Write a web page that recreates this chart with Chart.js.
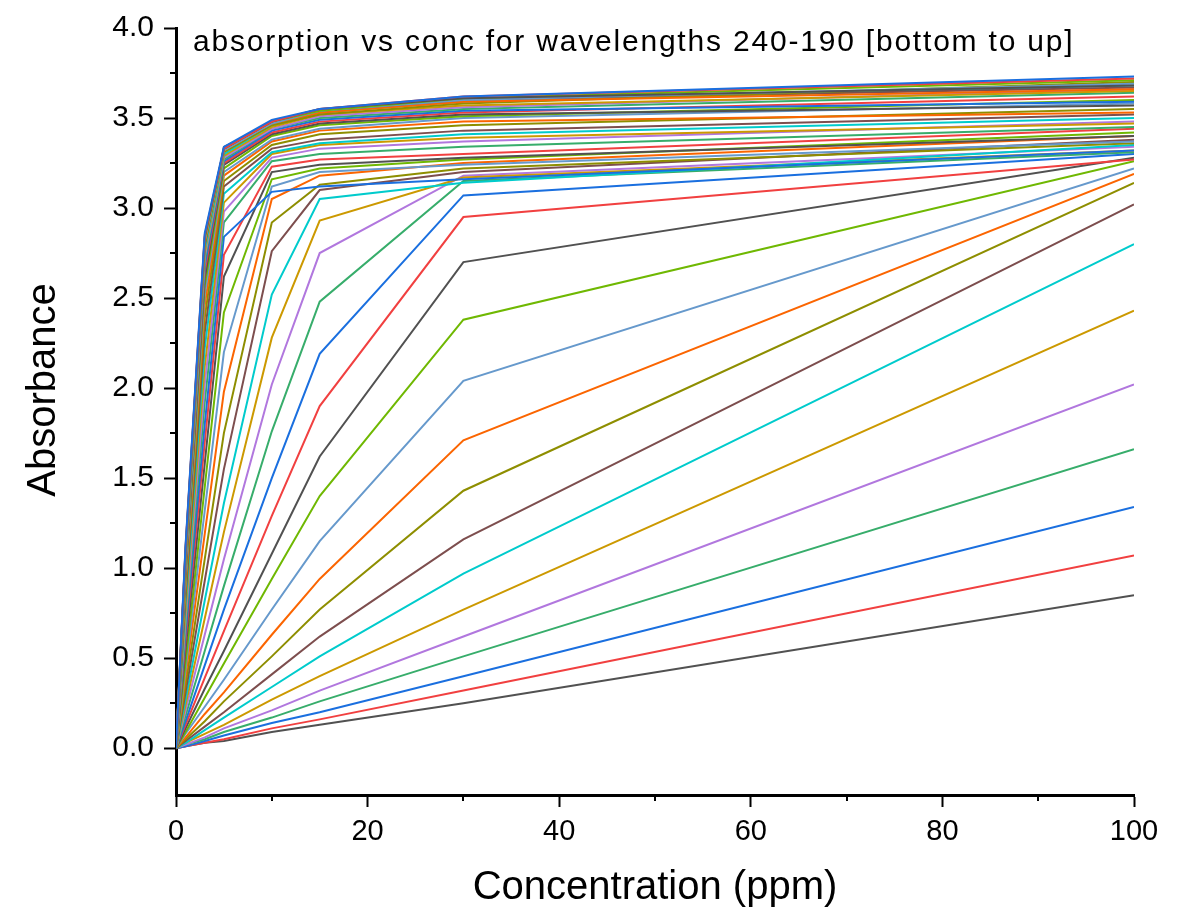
<!DOCTYPE html>
<html>
<head>
<meta charset="utf-8">
<script src="https://cdn.jsdelivr.net/npm/chart.js@4.4.1/dist/chart.umd.min.js"></script>
<style>
  html, body { margin: 0; padding: 0; background: #fff; }
  #wrap { width: 1192px; height: 916px; }
</style>
</head>
<body>
<div id="wrap"><canvas id="absChart" width="1192" height="916"></canvas></div>
<script>
// concentration points (ppm) shared by every curve
const concentrations = [0, 1, 3, 5, 10, 15, 30, 100];

// wavelengths, bottom curve first
const wavelengths = [240, 239, 238, 237, 236, 235, 234, 233, 232, 231, 230, 229,
                     228, 227, 226, 225, 224, 223, 222, 221, 220, 219, 218, 217,
                     216, 215, 214, 213, 212, 211, 210, 209, 208, 207, 206, 205,
                     204, 203, 202, 201, 200, 199, 198, 197, 196, 195, 194, 193,
                     192, 191, 190];

// 240-229 nm: nearly straight lines
const absLinear = [
  [0, 0.01, 0.03, 0.04, 0.09, 0.13, 0.25, 0.85],
  [0, 0.01, 0.03, 0.05, 0.11, 0.16, 0.32, 1.07],
  [0, 0.01, 0.04, 0.07, 0.14, 0.20, 0.40, 1.34],
  [0, 0.02, 0.05, 0.09, 0.17, 0.26, 0.51, 1.66],
  [0, 0.02, 0.06, 0.11, 0.21, 0.32, 0.62, 2.02],
  [0, 0.03, 0.08, 0.13, 0.27, 0.40, 0.77, 2.43],
  [0, 0.03, 0.10, 0.17, 0.34, 0.51, 0.97, 2.80],
  [0, 0.04, 0.12, 0.20, 0.41, 0.62, 1.16, 3.02],
  [0, 0.05, 0.15, 0.26, 0.51, 0.77, 1.43, 3.14],
  [0, 0.06, 0.19, 0.31, 0.63, 0.94, 1.71, 3.19],
  [0, 0.08, 0.23, 0.38, 0.77, 1.15, 2.04, 3.22],
  [0, 0.09, 0.28, 0.47, 0.94, 1.40, 2.38, 3.26]
];

// 228-217 nm: bend between 10 and 30 ppm
const absBend = [
  [0, 0.11, 0.33, 0.54, 1.08, 1.62, 2.70, 3.28],
  [0, 0.13, 0.39, 0.65, 1.29, 1.90, 2.95, 3.27],
  [0, 0.15, 0.46, 0.77, 1.50, 2.19, 3.07, 3.30],
  [0, 0.18, 0.54, 0.90, 1.76, 2.48, 3.15, 3.31],
  [0, 0.21, 0.63, 1.05, 2.02, 2.75, 3.18, 3.34],
  [0, 0.24, 0.72, 1.20, 2.28, 2.93, 3.17, 3.32],
  [0, 0.27, 0.82, 1.36, 2.52, 3.05, 3.14, 3.35],
  [0, 0.31, 0.93, 1.55, 2.76, 3.10, 3.20, 3.38],
  [0, 0.35, 1.05, 1.75, 2.92, 3.13, 3.22, 3.36],
  [0, 0.40, 1.19, 1.98, 3.05, 3.18, 3.25, 3.40],
  [0, 0.44, 1.32, 2.20, 3.12, 3.20, 3.24, 3.37],
  [0, 0.48, 1.45, 2.42, 3.16, 3.22, 3.27, 3.42]
];

// 216-190 nm: saturated near 3.3-3.7
const absSaturated = [
  [0, 0.55, 1.58, 2.62, 3.20, 3.24, 3.28, 3.40],
  [0, 0.60, 1.70, 2.74, 3.23, 3.27, 3.30, 3.44],
  [0, 0.64, 1.80, 2.84, 3.09, 3.12, 3.16, 3.32],
  [0, 0.68, 1.92, 2.92, 3.26, 3.30, 3.34, 3.45],
  [0, 0.72, 2.02, 2.98, 3.28, 3.33, 3.37, 3.48],
  [0, 0.76, 2.12, 3.03, 3.30, 3.35, 3.39, 3.47],
  [0, 0.80, 2.22, 3.08, 3.31, 3.36, 3.41, 3.50],
  [0, 0.84, 2.31, 3.12, 3.33, 3.38, 3.43, 3.52],
  [0, 0.88, 2.39, 3.15, 3.35, 3.41, 3.46, 3.55],
  [0, 0.91, 2.46, 3.18, 3.37, 3.43, 3.48, 3.53],
  [0, 0.94, 2.52, 3.20, 3.38, 3.44, 3.50, 3.58],
  [0, 0.96, 2.57, 3.22, 3.40, 3.46, 3.51, 3.60],
  [0, 0.98, 2.61, 3.24, 3.41, 3.47, 3.52, 3.57],
  [0, 1.00, 2.65, 3.25, 3.42, 3.48, 3.53, 3.62],
  [0, 1.01, 2.68, 3.26, 3.43, 3.49, 3.54, 3.59],
  [0, 1.02, 2.71, 3.27, 3.44, 3.50, 3.55, 3.64],
  [0, 1.03, 2.73, 3.28, 3.44, 3.51, 3.56, 3.66],
  [0, 1.04, 2.75, 3.29, 3.45, 3.52, 3.57, 3.65],
  [0, 1.05, 2.77, 3.30, 3.46, 3.53, 3.59, 3.68],
  [0, 1.06, 2.79, 3.34, 3.47, 3.53, 3.60, 3.67],
  [0, 1.07, 2.80, 3.31, 3.46, 3.52, 3.58, 3.70],
  [0, 1.08, 2.81, 3.32, 3.47, 3.53, 3.59, 3.66],
  [0, 1.09, 2.82, 3.32, 3.47, 3.54, 3.60, 3.69],
  [0, 1.10, 2.83, 3.33, 3.48, 3.54, 3.61, 3.71],
  [0, 1.11, 2.84, 3.33, 3.48, 3.55, 3.61, 3.68],
  [0, 1.12, 2.85, 3.33, 3.48, 3.55, 3.62, 3.72],
  [0, 1.13, 2.86, 3.34, 3.49, 3.55, 3.62, 3.73]
];

const xTicks = [0, 20, 40, 60, 80, 100];
const xMinorTicks = [10, 30, 50, 70, 90];
const yTicks = [0, 0.5, 1.0, 1.5, 2.0, 2.5, 3.0, 3.5, 4.0];
const yMinorTicks = [0.25, 0.75, 1.25, 1.75, 2.25, 2.75, 3.25, 3.75];

const titleText = 'absorption vs conc for wavelengths 240-190 [bottom to up]';
const yTitle = 'Absorbance';

// Origin style colour cycle
const palette = ['#515151', '#F14040', '#1A6FDF', '#37AD6B', '#B177DE', '#CC9900',
                 '#00CBCC', '#7D4E4E', '#8E8E00', '#FB6501', '#6699CC', '#6FB802'];

const FONT = '"Liberation Sans", Arial, sans-serif';

const allRows = absLinear.concat(absBend, absSaturated);

const datasets = allRows.map((row, i) => ({
    label: wavelengths[i] + ' nm',
    data: row.map((v, j) => ({ x: concentrations[j], y: v })),
    borderColor: palette[i % palette.length],
    borderWidth: 2,
    pointRadius: 0,
    tension: 0,
    fill: false,
    order: -i   // later curves on top, like Origin
}));

const minorTicks = {
    id: 'minorTicks',
    afterDraw(chart) {
        const { ctx } = chart;
        const xs = chart.scales.x, ys = chart.scales.y;
        ctx.save();
        ctx.strokeStyle = '#000';
        ctx.lineWidth = 2;
        ctx.beginPath();
        yMinorTicks.forEach(v => {
            const py = Math.round(ys.getPixelForValue(v));
            ctx.moveTo(ys.right, py);
            ctx.lineTo(ys.right - 6, py);
        });
        xMinorTicks.forEach(v => {
            const px = Math.round(xs.getPixelForValue(v));
            ctx.moveTo(px, xs.top);
            ctx.lineTo(px, xs.top + 6);
        });
        ctx.stroke();
        ctx.restore();
    }
};

// title inside the frame and the y axis title (sits a bit above centre)
const texts = {
    id: 'texts',
    afterDraw(chart) {
        const { ctx, chartArea } = chart;
        ctx.save();
        ctx.fillStyle = '#000';
        ctx.font = '30px ' + FONT;
        if ('letterSpacing' in ctx) ctx.letterSpacing = '1.8px';
        ctx.textBaseline = 'middle';
        ctx.textAlign = 'left';
        ctx.fillText(titleText, chartArea.left + 17, chartArea.top + 15);
        if ('letterSpacing' in ctx) ctx.letterSpacing = '0px';
        ctx.font = '40px ' + FONT;
        ctx.translate(44, 390);
        ctx.rotate(-Math.PI / 2);
        ctx.textAlign = 'center';
        ctx.fillText(yTitle, 0, 0);
        ctx.restore();
    }
};

new Chart(document.getElementById('absChart'), {
    type: 'line',
    data: { datasets },
    options: {
        responsive: false,
        devicePixelRatio: 1,
        animation: false,
        layout: { padding: { left: 0, right: 58, top: 26, bottom: 0 } },
        plugins: {
            legend: { display: false },
            tooltip: { enabled: false }
        },
        scales: {
            x: {
                type: 'linear',
                min: 0,
                max: 100,
                afterBuildTicks: s => { s.ticks = xTicks.map(v => ({ value: v })); },
                afterFit: s => { s.height = 121; },
                border: { display: true, color: '#000', width: 3 },
                grid: { drawOnChartArea: false, drawTicks: true, tickLength: 12, tickWidth: 2, tickColor: '#000' },
                ticks: { color: '#000', font: { size: 29, family: FONT }, padding: 8, maxRotation: 0 },
                title: {
                    display: true, text: 'Concentration (ppm)', color: '#000',
                    font: { size: 40, family: FONT }, padding: { top: 0, bottom: 4 }
                }
            },
            y: {
                type: 'linear',
                min: -0.26,
                max: 4.0,
                afterBuildTicks: s => { s.ticks = yTicks.map(v => ({ value: v })); },
                afterFit: s => { s.width = 176; },
                border: { display: true, color: '#000', width: 3 },
                grid: { drawOnChartArea: false, drawTicks: true, tickLength: 12, tickWidth: 2, tickColor: '#000' },
                ticks: {
                    color: '#000', font: { size: 30, family: FONT }, padding: 10,
                    callback: v => Number(v).toFixed(1)
                },
                title: { display: false }
            }
        }
    },
    plugins: [minorTicks, texts]
});
</script>
</body>
</html>
